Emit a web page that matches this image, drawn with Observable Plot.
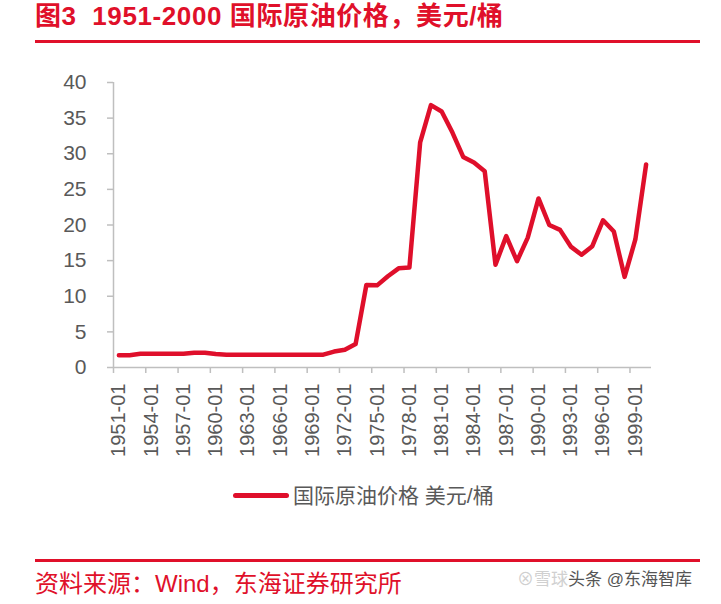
<!DOCTYPE html>
<html>
<head>
<meta charset="utf-8">
<script src="https://cdn.jsdelivr.net/npm/d3@7"></script>
<script src="https://cdn.jsdelivr.net/npm/@observablehq/plot@0.6"></script>
<style>
  html, body { margin: 0; padding: 0; background: #fff; }
  #page { position: relative; width: 721px; height: 604px; overflow: hidden;
          font-family: "Liberation Sans", Arial, "Noto Sans CJK SC", sans-serif; }
  #title { position: absolute; left: 35px; top: 3px; font-size: 26px; font-weight: bold;
           color: #E0102A; line-height: 26px; white-space: pre; letter-spacing: 0.6px; }
  .rule { position: absolute; left: 35px; width: 665px; height: 3px; background: #E0102A; }
  #chart { position: absolute; left: 0; top: 50px; }
  #legLine { position: absolute; left: 233px; top: 493px; width: 56px; height: 5px;
             border-radius: 2.5px; background: #DF0F2B; }
  #legText { position: absolute; left: 293px; top: 485px; font-size: 21px; line-height: 21px;
             color: #595959; white-space: pre; }
  #source { position: absolute; left: 35px; top: 572px; font-size: 24px; line-height: 24px;
            color: #E0102A; white-space: pre; }
  #wm { position: absolute; left: 517px; top: 571px; font-size: 17px; line-height: 18px;
        color: #555; white-space: pre; }
  #wm .faint { color: #d0d0d0; }
</style>
</head>
<body>
<div id="page">
  <div id="title">图3  1951-2000 国际原油价格，美元/桶</div>
  <div class="rule" style="top:39.5px"></div>
  <div id="chart"></div>
  <div id="legLine"></div>
  <div id="legText">国际原油价格 美元/桶</div>
  <div class="rule" style="top:558.5px"></div>
  <div id="source">资料来源：Wind，东海证券研究所</div>
  <div id="wm"><span class="faint">⊗雪球</span>头条 @东海智库</div>
</div>
<script>
const years = [1951,1952,1953,1954,1955,1956,1957,1958,1959,1960,
               1961,1962,1963,1964,1965,1966,1967,1968,1969,1970,
               1971,1972,1973,1974,1975,1976,1977,1978,1979,1980,
               1981,1982,1983,1984,1985,1986,1987,1988,1989,1990,
               1991,1992,1993,1994,1995,1996,1997,1998,1999,2000];
const prices = [1.71,1.71,1.93,1.93,1.93,1.93,1.93,2.08,2.08,1.90,
                1.80,1.80,1.80,1.80,1.80,1.80,1.80,1.80,1.80,1.80,
                2.24,2.48,3.29,11.58,11.53,12.80,13.92,14.02,31.61,36.83,
                35.93,32.97,29.55,28.78,27.56,14.43,18.44,14.92,18.23,23.73,
                20.00,19.32,16.97,15.82,17.02,20.67,19.09,12.72,17.97,28.50];
const labelYears = [1951,1954,1957,1960,1963,1966,1969,1972,1975,1978,1981,1984,1987,1990,1993,1996,1999];
const tickLabels = ["1951-01","1954-01","1957-01","1960-01","1963-01","1966-01","1969-01","1972-01",
                    "1975-01","1978-01","1981-01","1984-01","1987-01","1990-01","1993-01","1996-01","1999-01"];
const yTicks = [0,5,10,15,20,25,30,35,40];

const data = years.map((y, i) => ({year: y, price: prices[i]}));
const labelMap = new Map(labelYears.map((y, i) => [y, tickLabels[i]]));
const boundaries = labelYears.map(y => y - 0.5);
const axisColor = "#bfbfbf";
const textColor = "#595959";
const red = "#DF0F2B";

const chart = Plot.plot({
  width: 721,
  height: 420,
  marginTop: 32,
  marginBottom: 103,
  marginLeft: 113,
  marginRight: 70,
  style: {fontFamily: '"Liberation Sans", Arial, sans-serif', fontSize: "20px", background: "transparent"},
  x: {domain: [years[0] - 0.5, years[years.length - 1] + 0.5]},
  y: {domain: [0, 40]},
  marks: [
    Plot.axisY({ticks: yTicks, tickSize: 6, tickPadding: 21, stroke: axisColor, fill: textColor,
                fontSize: 21, label: null, strokeWidth: 1.5}),
    Plot.ruleX([years[0] - 0.5], {stroke: axisColor, strokeWidth: 1.5}),
    Plot.ruleY([0], {stroke: axisColor, strokeWidth: 1.5}),
    Plot.axisX({ticks: boundaries, tickFormat: () => "", tickSize: 6, stroke: axisColor,
                strokeWidth: 1.5, label: null}),
    Plot.axisX({ticks: labelYears, tickFormat: d => labelMap.get(d), tickSize: 0, tickPadding: 16,
                tickRotate: -90, fill: textColor, fontSize: 20, label: null}),
    Plot.line(data, {x: "year", y: "price", stroke: red, strokeWidth: 4.5,
                     strokeLinejoin: "round", strokeLinecap: "round"})
  ]
});
document.getElementById("chart").appendChild(chart);
</script>
</body>
</html>
